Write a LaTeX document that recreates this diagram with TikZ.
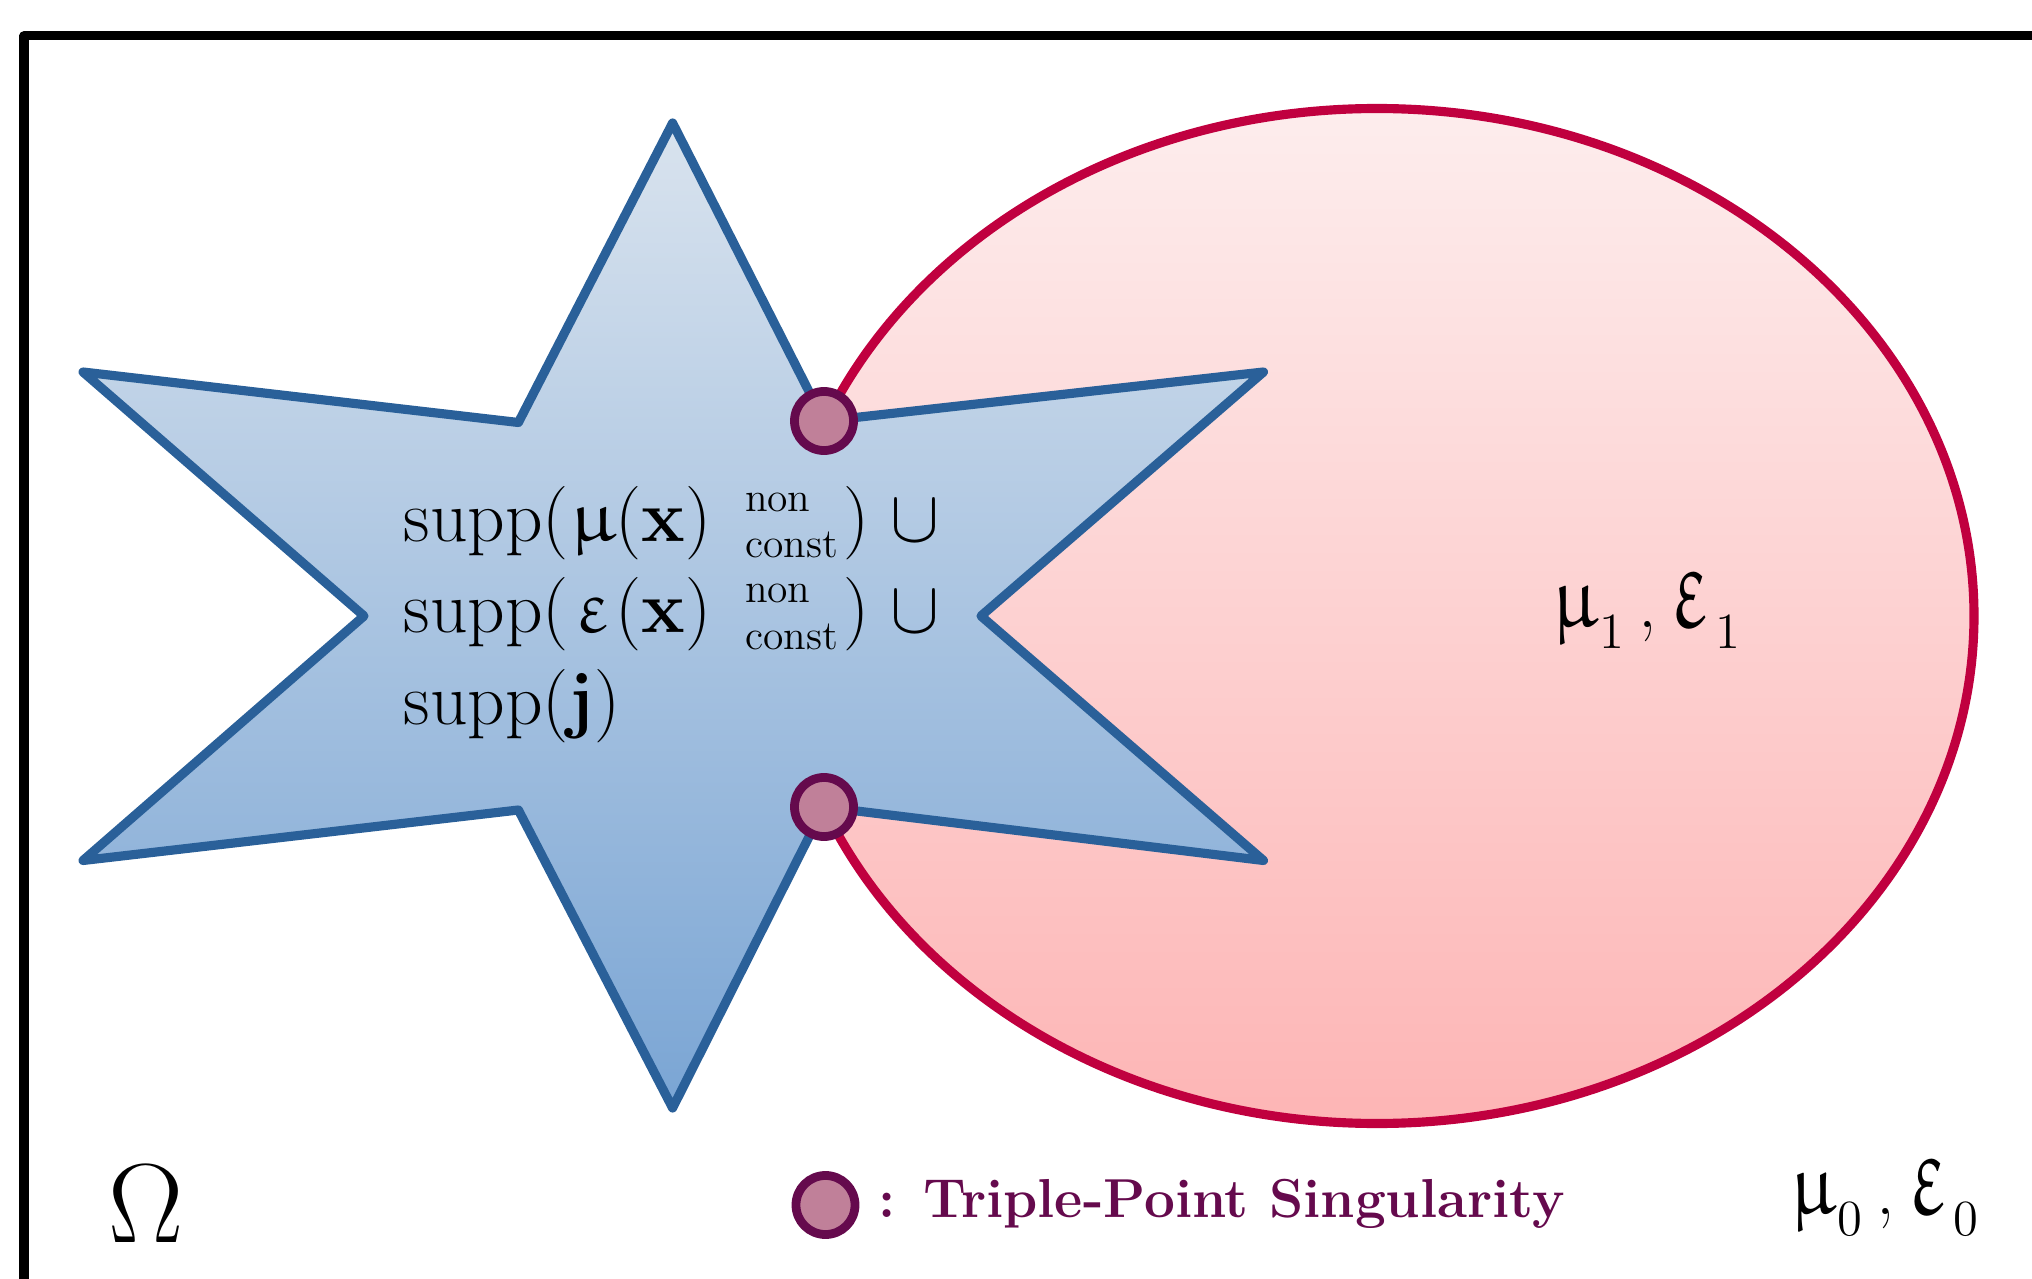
\RequirePackage{fix-cm}
\documentclass[tikz,border=0pt]{standalone}
\usepackage{amsmath}
\usepackage{graphicx}
\DeclareFontFamily{U}{myeur}{\skewchar\font'177}
\DeclareFontShape{U}{myeur}{m}{n}{<-> eurm10}{}
\DeclareSymbolFont{myeuler}{U}{myeur}{m}{n}
\DeclareMathSymbol{\eumu}{\mathord}{myeuler}{"16}
\DeclareMathSymbol{\euveps}{\mathord}{myeuler}{"22}
\newcommand{\nonconst}{\raisebox{-4.6pt}{\fontsize{11.8}{13.2}\selectfont\begin{tabular}[b]{@{}l@{}}non\\const\end{tabular}}}
\newcommand{\epsinmu}{\mathord{\setbox0\hbox{$\eumu$}\hbox to\wd0{\hss$\euveps$\hss}}}
\newcommand{\subdig}[1]{\raisebox{-6pt}{\fontsize{14.4}{16}\selectfont #1}}
\newcommand{\mulabel}[1]{\scalebox{1}[1.22]{$\eumu$}\kern0.3pt\subdig{#1}\kern4pt,\kern4pt\scalebox{1.12}[1.6]{$\euveps$}\kern1.5pt\subdig{#1}}
\definecolor{starblue}{HTML}{2A6099}
\definecolor{startop}{HTML}{D9E3EE}
\definecolor{starbot}{HTML}{7AA5D4}
\definecolor{ellred}{HTML}{C0003F}
\definecolor{elltop}{HTML}{FDEDED}
\definecolor{ellbot}{HTML}{FDB5B5}
\definecolor{dotfill}{HTML}{C08099}
\definecolor{dotring}{HTML}{650A4D}
\tikzset{
  region/.style={line width=2.6pt, line join=round},
  tpdot/.style={circle, draw=dotring, fill=dotfill, line width=2.5pt, minimum size=0.59cm, inner sep=0pt},
  lbl/.style={inner sep=0pt, anchor=base west, text=black},
  bigtext/.style={lbl, font=\fontsize{20.9}{25}\selectfont},
}
\begin{document}
\begin{tikzpicture}[x=0.01cm, y=-0.01cm]
\useasboundingbox (0,0) rectangle (2032,1279);
\clip (0,0) rectangle (2032,1279);
% domain frame
\draw[line width=2.56pt, line join=round] (24,36) rectangle (2150,1400);
% ellipse region
\draw[region, draw=ellred, top color=elltop, bottom color=ellbot]
  (1377,616) ellipse [x radius=597, y radius=507.5];
% star region
\draw[region, draw=starblue, top color=startop, bottom color=starbot]
  (672.6,123) -- (824,421) -- (1263.5,372) -- (981,616) -- (1263.5,860.5)
  -- (824,807) -- (672.6,1108) -- (518.4,810) -- (83,860.5) -- (364,616)
  -- (83,372) -- (518.4,422.5) -- cycle;
% triple points
\node[tpdot] (tp1) at (824,421) {};
\node[tpdot] (tp2) at (824,807) {};
% texts
\node[bigtext] (l1) at (403,541.7)
  {$\mathrm{supp}(\kern0.5pt\eumu(\mathbf{x})\hspace{9.5pt}\nonconst\hspace{1.6pt})\hspace{6pt}\cup$};
\node[bigtext] (l2) at (403,633)
  {$\mathrm{supp}(\kern0.5pt\epsinmu(\mathbf{x})\hspace{9.5pt}\nonconst\hspace{1.6pt})\hspace{6pt}\cup$};
\node[bigtext] (l3) at (403,725)
  {$\mathrm{supp}(\mathbf{j})$};
\node[bigtext] (m1) at (1552,627) {\mulabel{1}};
\node[bigtext] (m0) at (1790,1214) {\mulabel{0}};
\node[lbl, font=\fontsize{32}{38}\selectfont] (om) at (108,1242) {$\Omega$};
\node[tpdot] (legdot) at (825.5,1205) {};
\node[lbl, text=dotring, font=\fontsize{15.6}{18}\selectfont\bfseries] (legtxt) at (878,1217)
  {: Triple-Point Singularity};
\end{tikzpicture}
\end{document}
